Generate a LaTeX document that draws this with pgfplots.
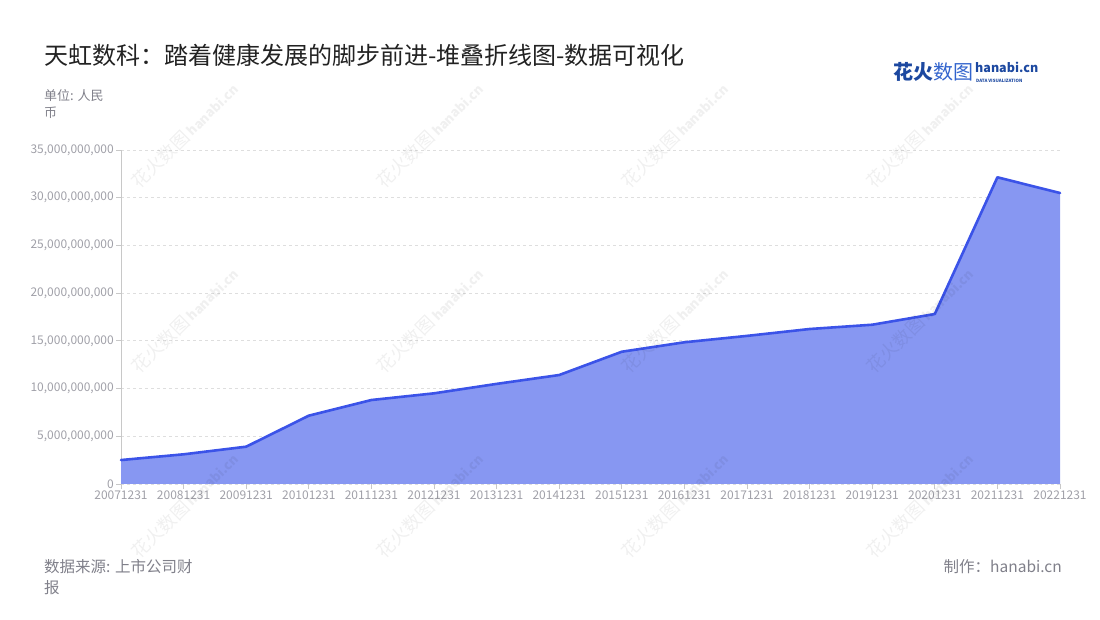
\documentclass[border=0pt]{standalone}
\usepackage{fontspec}
\setmainfont{Noto Sans CJK SC}
\usepackage{pgfplots}
\usepackage{pgfplotstable}
\pgfplotsset{compat=1.18}
\definecolor{fillc}{RGB}{135,151,242}
\definecolor{linec}{RGB}{59,83,232}
\definecolor{tickc}{RGB}{160,160,168}
\definecolor{gridc}{RGB}{222,222,222}
\definecolor{axc}{RGB}{200,200,200}
\definecolor{titlec}{RGB}{34,34,34}
\definecolor{subc}{RGB}{128,128,138}
\definecolor{logoc}{RGB}{28,72,160}
\definecolor{logoc2}{RGB}{50,100,205}
\pgfplotstableread{
x y
0 2510000000
1 3110000000
2 3910000000
3 7160000000
4 8800000000
5 9500000000
6 10490000000
7 11420000000
8 13860000000
9 14850000000
10 15520000000
11 16240000000
12 16690000000
13 17810000000
14 32140000000
15 30490000000
}\datatable
\begin{document}
\begin{tikzpicture}[x=1pt,y=1pt]
\useasboundingbox (0,0) rectangle (1100,620);
\begin{axis}[
  at={(121pt,136pt)}, anchor=south west,
  width=939pt, height=334pt, scale only axis,
  xmin=0, xmax=15, ymin=0, ymax=35000000000,
  axis lines=left,
  axis line style={-, draw=axc, line width=1pt},
  xtick={0,1,2,3,4,5,6,7,8,9,10,11,12,13,14,15},
  xticklabels={20071231,20081231,20091231,20101231,20111231,20121231,20131231,20141231,20151231,20161231,20171231,20181231,20191231,20201231,20211231,20221231},
  ytick={0,5000000000,10000000000,15000000000,20000000000,25000000000,30000000000,35000000000},
  yticklabels={0,{5,000,000,000},{10,000,000,000},{15,000,000,000},{20,000,000,000},{25,000,000,000},{30,000,000,000},{35,000,000,000}},
  scaled y ticks=false,
  tick align=outside,
  major tick length=5pt,
  tick style={draw=axc, line width=0.8pt},
  ymajorgrids,
  grid style={dashed, draw=gridc, line width=0.8pt},
  xticklabel style={font=\fontsize{12}{14}\selectfont, text=tickc, inner sep=2pt},
  yticklabel style={font=\fontsize{12}{14}\selectfont, text=tickc, inner sep=2pt},
  clip=false,
]
\addplot[draw=none, fill=fillc] table[x=x, y=y] {\datatable} \closedcycle;
\addplot[draw=linec, line width=2.6pt, line join=round, line cap=round] table[x=x, y=y] {\datatable};
\end{axis}
% watermarks
\foreach \wx in {135,380,625,870}{
  \foreach \wy in {185,370,555}{
    \node[anchor=west, rotate=45, inner sep=0, text=black, opacity=0.06,
      font=\fontsize{18}{20}\selectfont] at (\wx, 620-\wy)
      {花火数图\,{\fontsize{13}{14}\selectfont\bfseries hanabi.cn}};
  }
}
% title
\node[anchor=west, inner sep=0, text=titlec, font=\fontsize{24}{28}\selectfont]
  at (44,565) {天虹数科：踏着健康发展的脚步前进-堆叠折线图-数据可视化};
\node[anchor=west, inner sep=0, text=subc, font=\fontsize{13}{15}\selectfont]
  at (44,524) {单位: 人民};
\node[anchor=west, inner sep=0, text=subc, font=\fontsize{13}{15}\selectfont]
  at (44,507) {币};
% logo
\node[anchor=west, inner sep=0, font=\fontsize{20}{22}\selectfont]
  at (893,548) {{\bfseries\color{logoc}花火}{\color{logoc2}数图}};
\node[anchor=west, inner sep=0, text=logoc, font=\fontsize{12.5}{14}\selectfont\bfseries]
  at (975,553) {hanabi.cn};
\node[anchor=west, inner sep=0, text=logoc, font=\fontsize{4.4}{5}\selectfont\bfseries]
  at (976,539.5) {DATA VISUALIZATION};
% footer
\node[anchor=west, inner sep=0, text=subc, font=\fontsize{15.5}{18}\selectfont]
  at (44,53) {数据来源: 上市公司财};
\node[anchor=west, inner sep=0, text=subc, font=\fontsize{15.5}{18}\selectfont]
  at (44,32) {报};
\node[anchor=east, inner sep=0, text=subc, font=\fontsize{15.5}{18}\selectfont]
  at (1062,53) {制作：hanabi.cn};
\end{tikzpicture}
\end{document}
